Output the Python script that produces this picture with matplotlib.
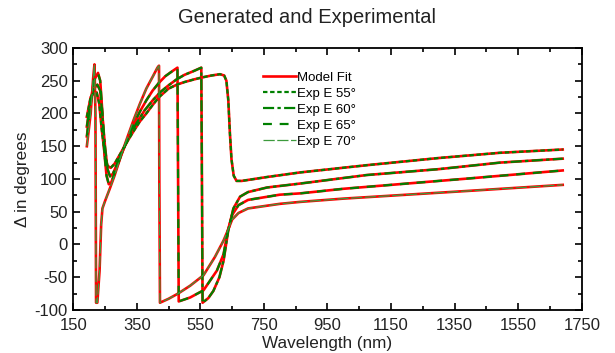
import numpy as np
import matplotlib
matplotlib.use("Agg")
import matplotlib.pyplot as plt
from matplotlib.ticker import FixedLocator, MultipleLocator

plt.rcParams['font.family'] = ['Liberation Sans', 'DejaVu Sans']
plt.rcParams['axes.unicode_minus'] = False

# --- data (wavelength nm, Delta deg) ---
# curve that wraps near 420 nm
wl_a = [193, 205, 213, 217, 220, 222, 226, 233, 238, 242, 250, 265, 280, 300, 320, 340,
        360, 380, 400, 415, 420, 421, 423, 450, 480, 518, 560, 596, 623, 637, 650, 670,
        700, 800, 864, 1000, 1200, 1400, 1690]
delta_a = [150, 200, 255, 275, 200, -89, -89, -40, 30, 55, 66, 85, 105, 135, 163, 190,
           215, 238, 256, 270, 273, 100, -89, -83, -75, -63, -47, -19, 6, 22, 38, 48,
           55, 62, 65, 70, 76, 82, 91]

# curve that wraps near 480 nm
wl_b = [193, 205, 215, 228, 235, 242, 248, 255, 262, 270, 285, 300, 320, 340, 360, 380,
        400, 420, 440, 460, 478, 480, 482, 518, 560, 602, 623, 637, 650, 670, 700, 800,
        864, 1000, 1200, 1400, 1690]
delta_b = [165, 215, 250, 262, 250, 200, 140, 105, 92, 95, 115, 135, 160, 183, 203, 220,
           235, 247, 257, 264, 270, 100, -87, -81, -70, -40, -15, 22, 45, 60, 68, 76,
           78, 85, 93, 101, 113]

# curve that wraps near 555 nm
wl_c = [193, 205, 215, 226, 235, 242, 250, 258, 266, 275, 290, 310, 330, 350, 375, 400,
        425, 450, 475, 500, 530, 553, 555, 557, 575, 591, 610, 623, 638, 654, 675, 700,
        760, 864, 1073, 1300, 1493, 1690]
delta_c = [180, 220, 238, 244, 235, 195, 150, 115, 104, 108, 125, 148, 168, 186, 205, 220,
           233, 243, 252, 259, 265, 270, 100, -89, -82, -71, -50, -25, 22, 55, 73, 80,
           87, 93, 106, 115, 125, 131]

# curve without wrap
wl_d = [193, 205, 215, 224, 232, 240, 250, 258, 268, 280, 300, 320, 340, 360, 380, 400,
        420, 450, 476, 500, 530, 555, 585, 612, 625, 632, 638, 643, 648, 655, 664, 680,
        760, 864, 1073, 1300, 1493, 1690]
delta_d = [195, 225, 232, 232, 215, 175, 135, 120, 117, 123, 140, 157, 173, 188, 200, 213,
           225, 238, 244, 248, 252, 255, 258, 260, 258, 250, 220, 170, 130, 105, 97, 97,
           103, 110, 121, 132, 140, 145]

x_ticks = [150, 350, 550, 750, 950, 1150, 1350, 1550, 1750]
exp_labels = ['Exp E 55\u00b0', 'Exp E 60\u00b0', 'Exp E 65\u00b0', 'Exp E 70\u00b0']
curves = [(wl_d, delta_d), (wl_c, delta_c), (wl_b, delta_b), (wl_a, delta_a)]

green = '#008000'
exp_styles = [
    dict(color=green, lw=1.6, dashes=(2.0, 1.2)),
    dict(color=green, lw=1.6, dashes=(5.0, 1.5, 1.5, 1.5)),
    dict(color=green, lw=1.6, dashes=(4.0, 3.5)),
    dict(color='#3c9a3c', lw=0.9, dashes=(9.0, 2.0)),
]

fig = plt.figure(figsize=(6.15, 3.53), dpi=100)
ax = fig.add_axes([0.119, 0.122, 0.827, 0.742])

for i, (w, d) in enumerate(curves):
    ax.plot(w, d, color='red', lw=1.9, label='Model Fit' if i == 0 else None)
for (w, d), lab, st in zip(curves, exp_labels, exp_styles):
    ax.plot(w, d, label=lab, **st)

ax.set_xlim(150, 1750)
ax.set_ylim(-100, 300)
ax.xaxis.set_major_locator(FixedLocator(x_ticks))
ax.xaxis.set_minor_locator(FixedLocator([t + 100 for t in x_ticks[:-1]]))
ax.yaxis.set_major_locator(MultipleLocator(50))
ax.yaxis.set_minor_locator(MultipleLocator(25))
ax.tick_params(which='both', direction='in', top=True, right=True, labelsize=12,
               width=1.2, colors='black', labelcolor='#222222')
ax.tick_params(axis='y', pad=4)
ax.tick_params(axis='x', pad=6)
ax.tick_params(which='major', length=5)
ax.tick_params(which='minor', length=3)
for s in ax.spines.values():
    s.set_linewidth(1.3)

ax.set_xlabel('Wavelength (nm)', fontsize=12.3, labelpad=2, color='#222222')
ax.set_ylabel('\u0394 in degrees', fontsize=12.3, labelpad=3, color='#222222')
fig.suptitle('Generated and Experimental', y=0.95, va='center', fontsize=14.5,
             color='#222222')

ax.legend(loc='upper left', bbox_to_anchor=(0.36, 0.935), frameon=False, fontsize=9.5,
          handlelength=2.5, handletextpad=0.05, labelspacing=0.28, borderpad=0)

fig.savefig('out.png', dpi=100)
